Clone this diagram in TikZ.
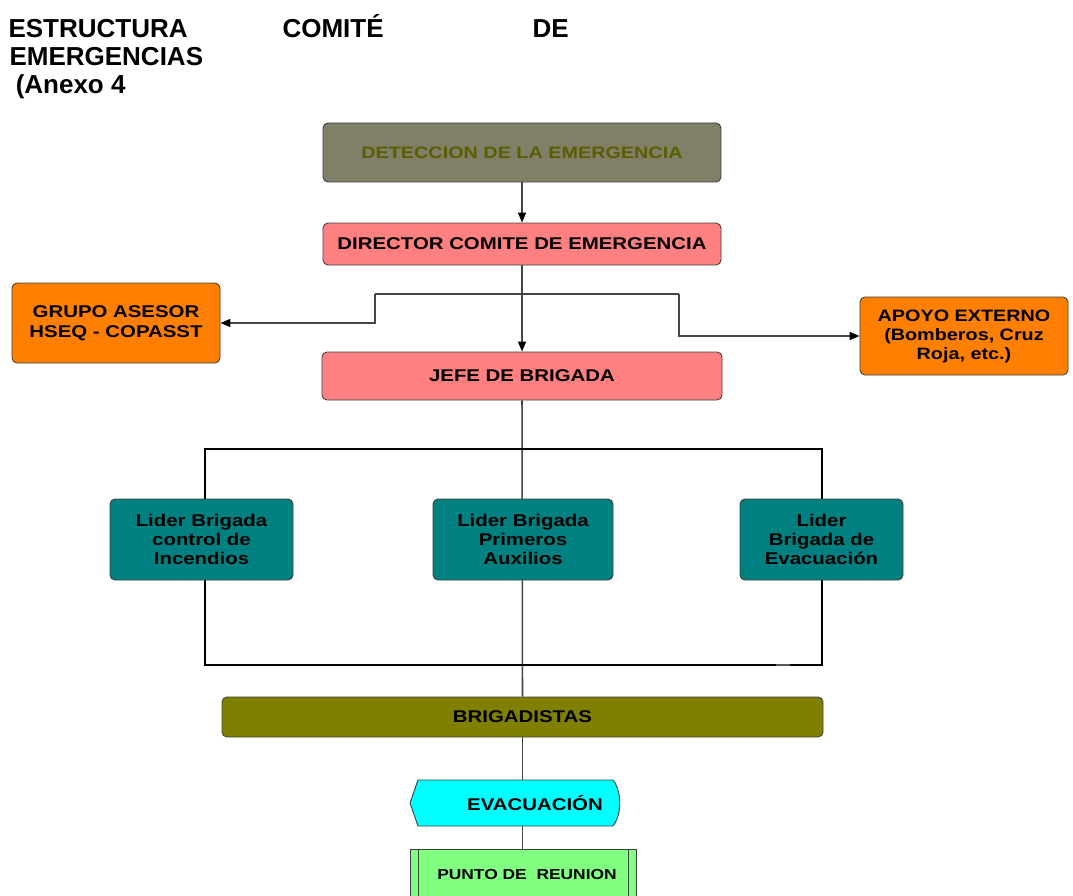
\documentclass[tikz,border=0pt]{standalone}
\usepackage{fontspec}
\setmainfont{Liberation Sans}
\newfontfamily\widesans[FakeStretch=1.2]{Liberation Sans}
\usetikzlibrary{arrows.meta,backgrounds}
\definecolor{detgris}{HTML}{808068}
\definecolor{dettexto}{HTML}{5C5C00}
\definecolor{salmon}{HTML}{FF8080}
\definecolor{naranja}{HTML}{FF8000}
\definecolor{verdeazul}{HTML}{008080}
\definecolor{oliva}{HTML}{808000}
\definecolor{cian}{HTML}{00FFFF}
\definecolor{verdeclaro}{HTML}{80FF80}
\definecolor{linea}{HTML}{454545}
\newcommand{\fsz}[2]{\fontsize{#1}{#2}\selectfont}
\newcommand{\ebox}[6]{%
  \node[caja,#1,minimum width=#4pt,minimum height=#5pt] (#2) at (#3) {#6};}
\tikzset{
  caja/.style={draw=black!75,rounded corners=5pt,line width=0.9pt,
    font={\widesans\bfseries\fsz{17}{20}},align=center,inner sep=2pt},
  titulo/.style={anchor=base west,font={\bfseries\fsz{26}{28}}},
  conn/.style={draw=linea,line width=1.6pt},
  flecha/.style={conn,-{Triangle[length=10pt,width=8pt,color=black]}},
  marco/.style={draw=black,line width=1.1pt}
}

\begin{document}
\begin{tikzpicture}[x=1pt,y=-1pt]
  \useasboundingbox (0,0) rectangle (1073,896);
  % titulo
  \node[titulo] (tit1) at (5,38) {ESTRUCTURA};
  \node[titulo] (tit2) at (279,38) {COMITÉ};
  \node[titulo] (tit3) at (529,38) {DE};
  \node[titulo] (tit4) at (6,66) {EMERGENCIAS};
  \node[titulo] (tit5) at (5,94) {\ (Anexo 4};
  % cajas
  \ebox{fill=detgris,text=dettexto,font={\widesans\bfseries\fsz{16.5}{20}}}{detect}{522,152.5}{398}{59}{DETECCION DE LA EMERGENCIA}
  \ebox{fill=salmon}{director}{522,244}{398}{42}{DIRECTOR COMITE DE EMERGENCIA}
  \ebox{fill=naranja}{grupo}{116,323}{208}{80}{GRUPO ASESOR\\HSEQ - COPASST}
  \ebox{fill=naranja,font={\widesans\bfseries\fsz{16.5}{19}}}{apoyo}{964,336}{208}{78}{APOYO EXTERNO\\(Bomberos, Cruz\\Roja, etc.)}
  \ebox{fill=salmon}{jefe}{522,376}{400}{48}{JEFE DE BRIGADA}
  \ebox{fill=verdeazul,font={\widesans\bfseries\fsz{17}{19}}}{lidInc}{201.5,539.5}{183}{81}{Lider Brigada\\control de\\Incendios}
  \ebox{fill=verdeazul,font={\widesans\bfseries\fsz{17}{19}}}{lidAux}{523,539.5}{180}{81}{Lider Brigada\\Primeros\\Auxilios}
  \ebox{fill=verdeazul,font={\widesans\bfseries\fsz{17}{19}}}{lidEva}{821.5,539.5}{163}{81}{Lider\\Brigada de\\Evacuación}
  \ebox{fill=oliva}{brig}{522.5,717}{601}{40}{BRIGADISTAS}
  % evacuacion y punto de reunion
  \draw[draw=black!75,line width=0.9pt,fill=cian] (418,780) -- (410,803) -- (418,826)
    -- (613,826) .. controls (622,815) and (622,791) .. (613,780) -- cycle;
  \node[font={\widesans\bfseries\fsz{17}{20}},minimum height=46pt] (evac) at (535,803) {EVACUACIÓN};
  \node[draw=black!75,line width=0.9pt,fill=verdeclaro,minimum width=226pt,minimum height=50pt,
    font={\widesans\bfseries\fsz{14.5}{18}}] (punto) at (523,874) {\hspace{8pt}PUNTO DE\ \ REUNION};
  \draw[black!75,line width=0.9pt] (418,849) -- (418,899);
  \draw[black!75,line width=0.9pt] (628,849) -- (628,899);
  % conectores
  \coordinate (splitL) at (375,294);
  \coordinate (splitR) at (679,294);
  \coordinate (marcoNW) at (205,449);
  \coordinate (marcoSE) at (822,665);
  \begin{scope}[on background layer]
    \fill[white] (0,0) rectangle (1073,896);
    \draw[flecha] (detect) -- (director);
    \draw[flecha] (director) -- (jefe);
    \draw[conn] (splitL) -- (splitR);
    \draw[flecha] (splitL) |- (grupo.east);
    \draw[flecha] (splitR) |- (apoyo.west);
    \draw[conn] (jefe) -- (brig);
    \draw[marco] (marcoNW) rectangle (marcoSE);
    \draw[line width=2.2pt,black!65] (776,665) -- (790,665);
    \draw[conn] (brig.south) -- (brig.south |- evac.north);
    \draw[conn] (brig.south |- evac.south) -- (brig.south |- punto.north);
  \end{scope}
\end{tikzpicture}
\end{document}
